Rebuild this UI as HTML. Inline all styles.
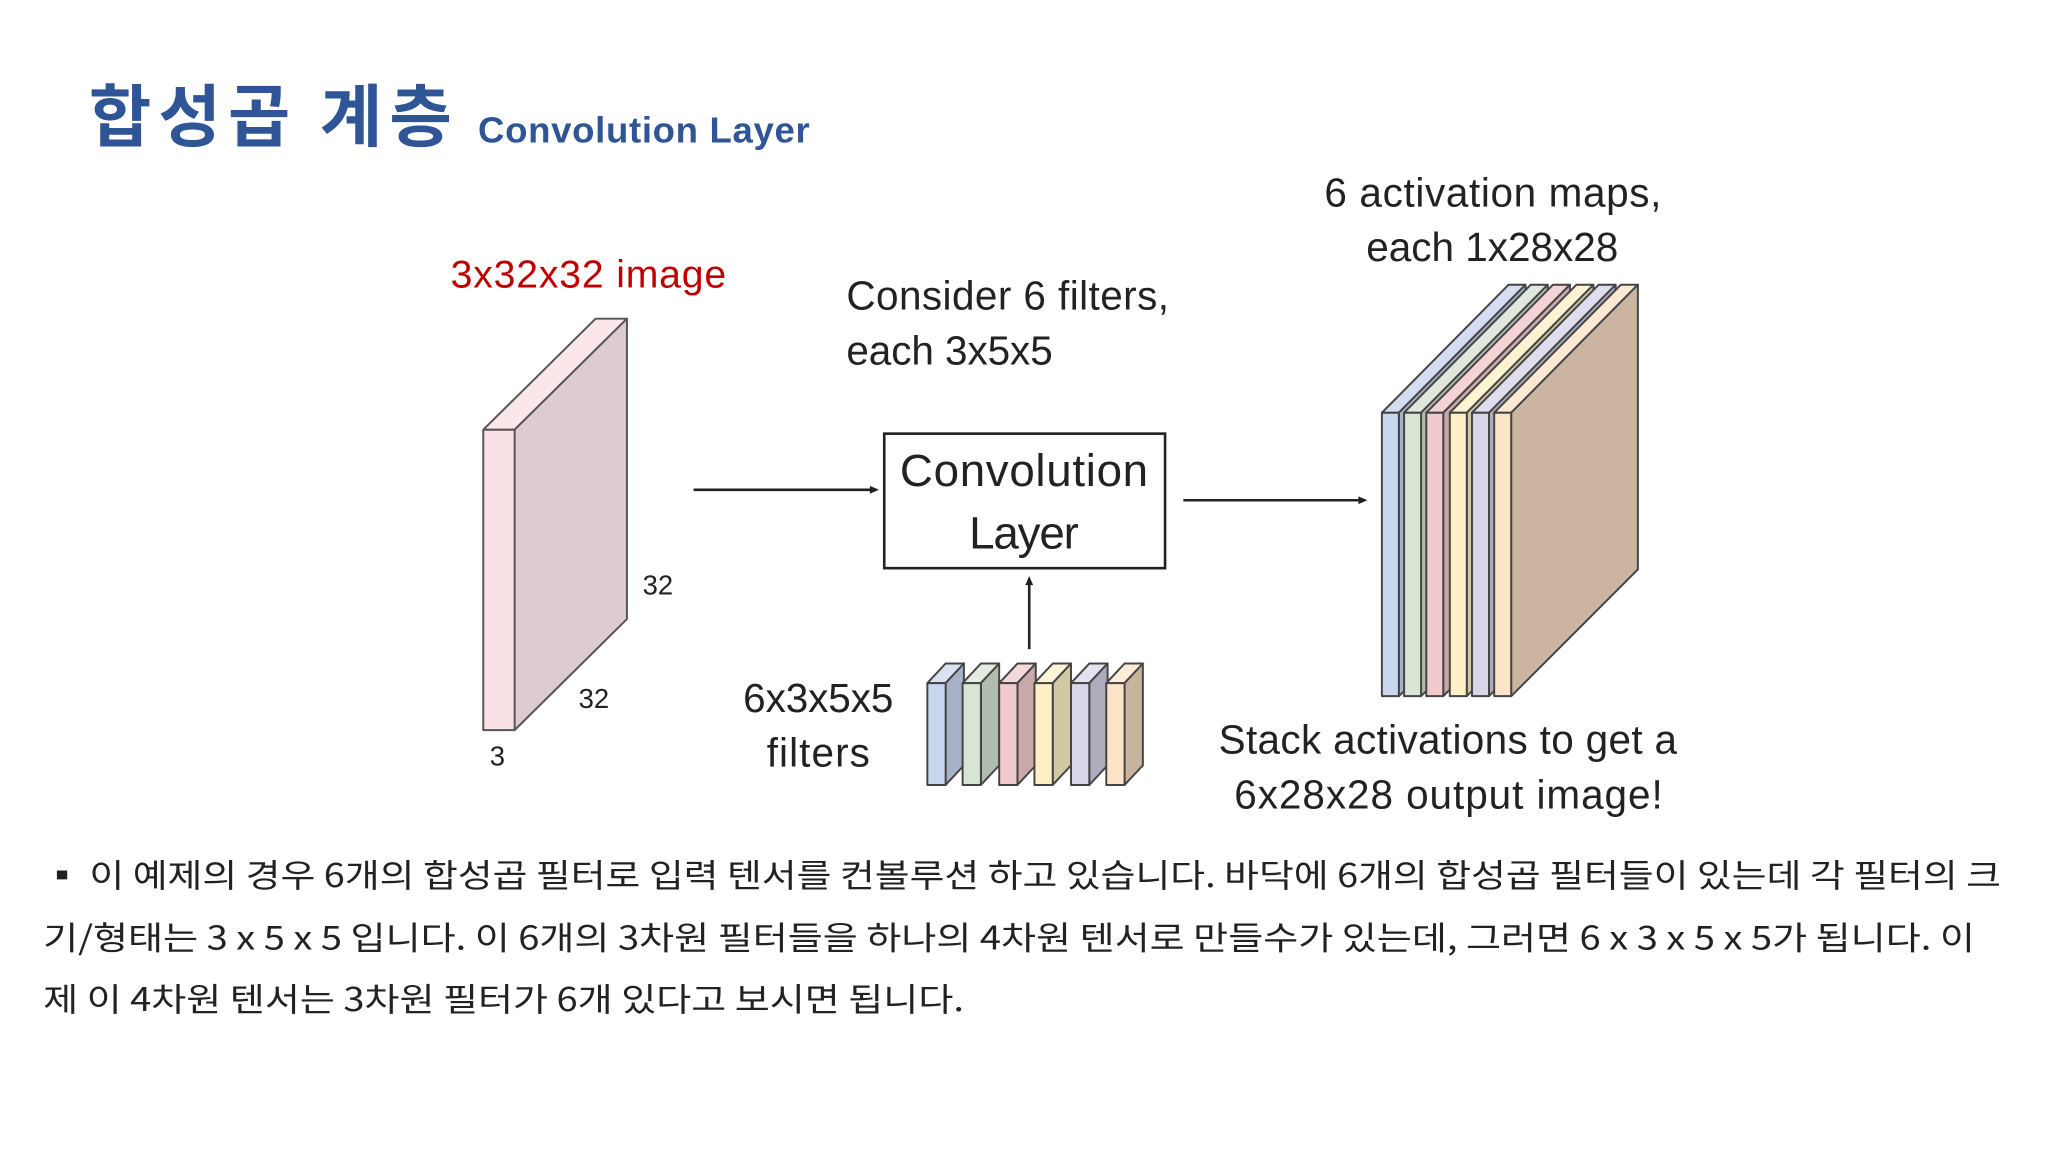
<!DOCTYPE html>
<html><head><meta charset="utf-8"><style>html,body{margin:0;padding:0;background:#fff}svg{display:block}</style></head><body>
<svg width="2048" height="1152" viewBox="0 0 1568 882" preserveAspectRatio="none" xmlns="http://www.w3.org/2000/svg" font-family="'Liberation Sans','Noto Sans CJK KR',sans-serif">
<rect width="1568" height="882" fill="#fff"/>
<text x="68" y="108" font-size="52" font-weight="bold" fill="#2f5597" textLength="278" font-family="'Noto Sans CJK KR',sans-serif">합성곱 계층</text>
<text x="366" y="109" font-size="28" font-weight="bold" fill="#2f5597" textLength="254">Convolution Layer</text>
<g stroke="#555" stroke-width="1.5" stroke-linejoin="round">
<polygon points="370,329 456,244 480,244 394,329" fill="#fbe6e9"/>
<polygon points="394,329 480,244 480,474 394,559" fill="#ddcbcf"/>
<rect x="370" y="329" width="24" height="230" fill="#f9e1e5"/>
</g>
<text x="345" y="220" font-size="30" fill="#c00000" textLength="211">3x32x32 image</text>
<text x="492" y="455" font-size="21" fill="#222">32</text>
<text x="443" y="542" font-size="21" fill="#222">32</text>
<text x="375" y="586" font-size="21" fill="#222">3</text>
<g stroke="#222" stroke-width="2" fill="#222">
<line x1="531" y1="375" x2="668" y2="375"/><polygon points="673,375 666,372 666,378" stroke="none"/>
<line x1="906" y1="383" x2="1042" y2="383"/><polygon points="1047,383 1040,380 1040,386" stroke="none"/>
<line x1="788" y1="497" x2="788" y2="446"/><polygon points="788,441 785,448 791,448" stroke="none"/>
</g>
<rect x="677" y="332" width="215" height="103" fill="#fff" stroke="#222" stroke-width="2"/>
<g font-size="35" fill="#222" text-anchor="middle">
<text x="784" y="372" textLength="190">Convolution</text>
<text x="784" y="420" textLength="84">Layer</text>
</g>
<g font-size="31" fill="#222">
<text x="648" y="237" textLength="247">Consider 6 filters,</text>
<text x="648" y="279" textLength="158">each 3x5x5</text>
<text x="569" y="545" textLength="115">6x3x5x5</text>
<text x="587" y="587" textLength="79">filters</text>
<text x="1014" y="158" textLength="258">6 activation maps,</text>
<text x="1046" y="200" textLength="193">each 1x28x28</text>
<text x="933" y="577" textLength="351">Stack activations to get a</text>
<text x="945" y="619" textLength="328">6x28x28 output image!</text>
</g>
<g stroke="#444" stroke-width="1.5" stroke-linejoin="round">
<!-- filters -->
<g><polygon points="710,523 724,508 738,508 724,523" fill="#dbe3f3"/><polygon points="724,523 738,508 738,586 724,601" fill="#a7b1c7"/><rect x="710" y="523" width="14" height="78" fill="#c9d6ef"/></g>
<g><polygon points="737,523 751,508 765,508 751,523" fill="#e3ecdf"/><polygon points="751,523 765,508 765,586 751,601" fill="#b0bcad"/><rect x="737" y="523" width="14" height="78" fill="#d7e5d3"/></g>
<g><polygon points="765,523 779,508 793,508 779,523" fill="#f5d8da"/><polygon points="779,523 793,508 793,586 779,601" fill="#c8a8aa"/><rect x="765" y="523" width="14" height="78" fill="#f2c9cc"/></g>
<g><polygon points="792,523 806,508 820,508 806,523" fill="#fdf4d8"/><polygon points="806,523 820,508 820,586 806,601" fill="#d2c9a4"/><rect x="792" y="523" width="14" height="78" fill="#fdf0c5"/></g>
<g><polygon points="820,523 834,508 848,508 834,523" fill="#e4e2f0"/><polygon points="834,523 848,508 848,586 834,601" fill="#aeabbd"/><rect x="820" y="523" width="14" height="78" fill="#d9d6ea"/></g>
<g><polygon points="847,523 861,508 875,508 861,523" fill="#feecd9"/><polygon points="861,523 875,508 875,586 861,601" fill="#c8b49d"/><rect x="847" y="523" width="14" height="78" fill="#fde4c8"/></g>
<!-- activation maps -->
<g><polygon points="1058,316 1155,218 1168,218 1071,316" fill="#d4ddf1"/><polygon points="1071,316 1168,218 1168,436 1071,533" fill="#a7b1c7"/><rect x="1058" y="316" width="13" height="217" fill="#c9d6ef"/></g>
<g><polygon points="1075,316 1172,218 1185,218 1088,316" fill="#dfe9db"/><polygon points="1088,316 1185,218 1185,436 1088,533" fill="#b0bcad"/><rect x="1075" y="316" width="13" height="217" fill="#d7e5d3"/></g>
<g><polygon points="1092,316 1189,218 1202,218 1105,316" fill="#f4d3d5"/><polygon points="1105,316 1202,218 1202,436 1105,533" fill="#c8a8aa"/><rect x="1092" y="316" width="13" height="217" fill="#f2c9cc"/></g>
<g><polygon points="1110,316 1207,218 1220,218 1123,316" fill="#fdf2d2"/><polygon points="1123,316 1220,218 1220,436 1123,533" fill="#d2c9a4"/><rect x="1110" y="316" width="13" height="217" fill="#fdf0c5"/></g>
<g><polygon points="1127,316 1224,218 1237,218 1140,316" fill="#e0ddef"/><polygon points="1140,316 1237,218 1237,436 1140,533" fill="#aeabbd"/><rect x="1127" y="316" width="13" height="217" fill="#d9d6ea"/></g>
<g><polygon points="1144,316 1241,218 1254,218 1157,316" fill="#fde9d3"/><polygon points="1157,316 1254,218 1254,436 1157,533" fill="#cbb5a0"/><rect x="1144" y="316" width="13" height="217" fill="#fde4c8"/></g>
</g>
<g font-size="25" fill="#222" font-family="'Noto Sans CJK KR',sans-serif">
<text x="33" y="679" textLength="1499" lengthAdjust="spacingAndGlyphs">▪ 이 예제의 경우 6개의 합성곱 필터로 입력 텐서를 컨볼루션 하고 있습니다. 바닥에 6개의 합성곱 필터들이 있는데 각 필터의 크</text>
<text x="33" y="727" textLength="1479" lengthAdjust="spacingAndGlyphs">기/형태는 3 x 5 x 5 입니다. 이 6개의 3차원 필터들을 하나의 4차원 텐서로 만들수가 있는데, 그러면 6 x 3 x 5 x 5가 됩니다. 이</text>
<text x="33" y="774" textLength="705" lengthAdjust="spacingAndGlyphs">제 이 4차원 텐서는 3차원 필터가 6개 있다고 보시면 됩니다.</text>
</g>
</svg>
</body></html>
